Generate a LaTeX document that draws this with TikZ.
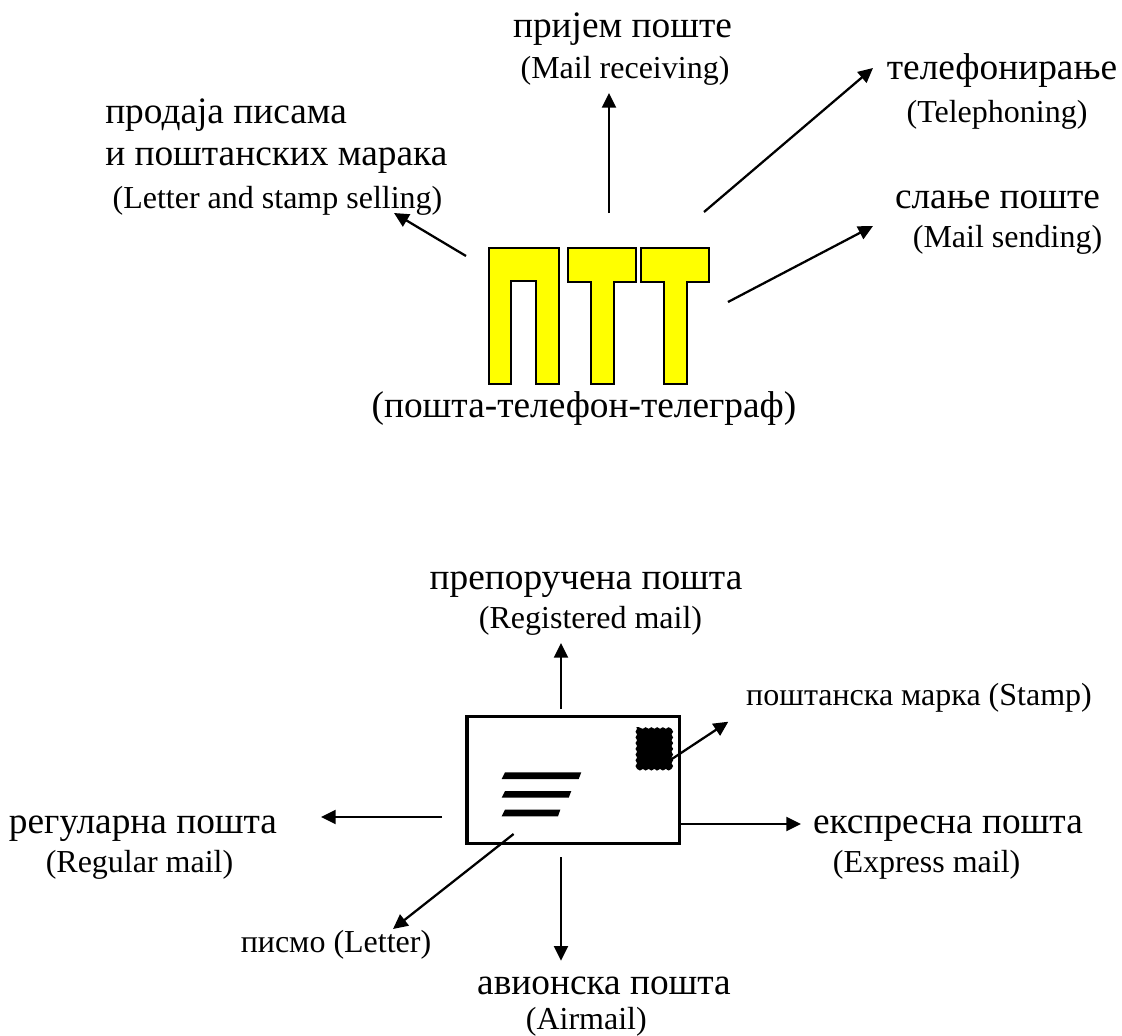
\documentclass[tikz,border=0pt]{standalone}
\usepackage{fontspec}
\setmainfont{Liberation Serif}
\usetikzlibrary{arrows.meta,decorations.pathmorphing}
\definecolor{pttyellow}{RGB}{255,255,0}
\tikzset{
 x=0.75pt,y=-0.75pt,
 big/.style={inner sep=0pt,anchor=base,font=\fontsize{28}{28}\selectfont},
 small/.style={inner sep=0pt,anchor=base,font=\fontsize{24}{24}\selectfont},
 arr/.style={line width=1.7pt,-{Triangle[length=11pt,width=10.5pt]}},
 letter/.style={draw=black,line width=1.5pt,fill=pttyellow,line join=miter},
 bar/.style={fill=black,draw=none}
}
\begin{document}
\begin{tikzpicture}
\useasboundingbox (0,0) rectangle (1122,1036);
% letters
\path[letter] (488.7,384.3) -- (488.7,248.3) -- (558.7,248.3) -- (558.7,384.3) -- (536,384.3) -- (536,281.3) -- (511.3,281.3) -- (511.3,384.3) -- cycle;
\path[letter] (567.7,248.3) -- (636.3,248.3) -- (636.3,282) -- (613.7,282) -- (613.7,384.3) -- (590.7,384.3) -- (590.7,282) -- (567.7,282) -- cycle;
\path[letter] (640.7,248.3) -- (709.3,248.3) -- (709.3,282) -- (687,282) -- (687,384.3) -- (663.7,384.3) -- (663.7,282) -- (640.7,282) -- cycle;
% envelope
\node[draw=black,line width=2.5pt,minimum width=159.2pt,minimum height=95.55pt,inner sep=0pt] (env) at (573.15,780) {};
\fill[black,decorate,decoration={snake,amplitude=0.6pt,segment length=4.3pt}] (636.3,727) rectangle (670.3,767.5);
\path[bar] (501.7,779) -- (505,772.3) -- (581.3,772.3) -- (578.7,779) -- cycle;
\path[bar] (501.7,797.7) -- (505,791) -- (571.3,791) -- (568.7,797.7) -- cycle;
\path[bar] (501.7,816.3) -- (505,809.7) -- (560.3,809.7) -- (558,816.3) -- cycle;
% arrow coordinates
\coordinate (a1s) at (466,256); \coordinate (a1e) at (394,213);
\coordinate (a2s) at (609,213); \coordinate (a2e) at (609,93);
\coordinate (a3s) at (704,212); \coordinate (a3e) at (873,68);
\coordinate (a4s) at (728,302); \coordinate (a4e) at (873,226);
\coordinate (b1s) at (561,709); \coordinate (b1e) at (561,643);
\coordinate (b2s) at (656,769.5); \coordinate (b2e) at (728.3,721.7);
\coordinate (b3s) at (681,824); \coordinate (b3e) at (801,824);
\coordinate (b4s) at (442,817); \coordinate (b4e) at (321,817);
\coordinate (b5s) at (513.6,834); \coordinate (b5e) at (393,929);
\coordinate (b6s) at (561,857); \coordinate (b6e) at (561,960.7);
\foreach \n in {a1,a2,a3,a4,b1,b2,b3,b4,b5,b6} \draw[arr] (\n s) -- (\n e);
% labels
\node[big] (t1) at (622.5,37) {пријем поште};
\node[small] (t2) at (625,78) {(Mail receiving)};
\node[big] (t3) at (1002,79) {телефонирање};
\node[small] (t4) at (997,122) {(Telephoning)};
\node[big,anchor=base west] (t5) at (105,123) {продаја писама};
\node[big,anchor=base west] (t6) at (105,165.7) {и поштанских марака};
\node[small] (t7) at (277.5,208) {(Letter and stamp selling)};
\node[big] (t8) at (997.5,208) {слање поште};
\node[small] (t9) at (1007.5,247) {(Mail sending)};
\node[big] (t10) at (584,417) {(пошта-телефон-телеграф)};
\node[big] (t11) at (586,589) {препоручена пошта};
\node[small] (t12) at (590.5,628) {(Registered mail)};
\node[small] (t13) at (919,705.7) {поштанска марка (Stamp)};
\node[big] (t14) at (143,833) {регуларна пошта};
\node[small] (t15) at (139.5,872) {(Regular mail)};
\node[big] (t16) at (948,833) {експресна пошта};
\node[small] (t17) at (926.6,872) {(Express mail)};
\node[small] (t18) at (336,952.7) {писмо (Letter)};
\node[big] (t19) at (604,994) {авионска пошта};
\node[small] (t20) at (586.3,1029) {(Airmail)};
\end{tikzpicture}
\end{document}
